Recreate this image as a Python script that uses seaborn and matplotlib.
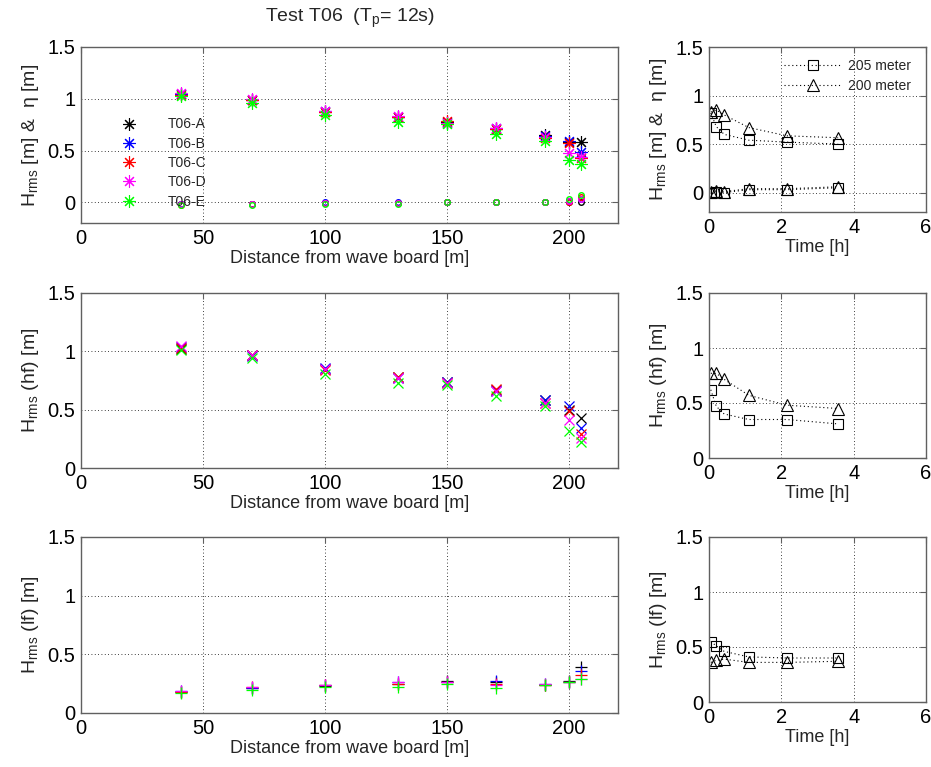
import numpy as np
import pandas as pd
import matplotlib
matplotlib.use("Agg")
import matplotlib.pyplot as plt
import seaborn as sns
from matplotlib.ticker import FuncFormatter

# ---------------- data ----------------
stations = [41, 70, 100, 130, 150, 170, 190, 200, 205]
series_names = ["T06-A", "T06-B", "T06-C", "T06-D", "T06-E"]
series_colors = ["#000000", "#0000ff", "#ff0000", "#ff00ff", "#00ff00"]

hrms_A = [1.05, 0.99, 0.87, 0.82, 0.78, 0.71, 0.65, 0.58, 0.58]
hrms_B = [1.05, 0.99, 0.88, 0.82, 0.77, 0.72, 0.64, 0.59, 0.49]
hrms_C = [1.04, 0.99, 0.87, 0.82, 0.79, 0.71, 0.62, 0.57, 0.43]
hrms_D = [1.06, 1.00, 0.88, 0.83, 0.77, 0.72, 0.63, 0.48, 0.44]
hrms_E = [1.03, 0.96, 0.84, 0.78, 0.76, 0.66, 0.59, 0.41, 0.37]

eta_A = [-0.02, -0.02, -0.01, -0.01, 0.0, 0.0, 0.0, 0.0, 0.0]
eta_B = [-0.02, -0.02, 0.0, 0.0, 0.0, 0.0, 0.0, 0.01, 0.03]
eta_C = [-0.03, -0.02, -0.01, -0.01, 0.0, 0.0, 0.0, 0.0, 0.05]
eta_D = [-0.02, -0.02, -0.01, -0.01, 0.0, 0.0, 0.0, 0.01, 0.03]
eta_E = [-0.03, -0.03, -0.02, -0.02, 0.0, 0.0, 0.0, 0.03, 0.07]

hf_A = [1.02, 0.97, 0.85, 0.78, 0.74, 0.67, 0.58, 0.50, 0.43]
hf_B = [1.04, 0.96, 0.86, 0.77, 0.74, 0.66, 0.58, 0.53, 0.34]
hf_C = [1.03, 0.97, 0.84, 0.78, 0.73, 0.68, 0.56, 0.49, 0.29]
hf_D = [1.05, 0.97, 0.85, 0.77, 0.73, 0.66, 0.56, 0.41, 0.26]
hf_E = [1.01, 0.94, 0.81, 0.73, 0.71, 0.62, 0.53, 0.32, 0.22]

lf_A = [0.18, 0.21, 0.23, 0.25, 0.27, 0.26, 0.24, 0.27, 0.39]
lf_B = [0.19, 0.21, 0.24, 0.26, 0.26, 0.27, 0.25, 0.265, 0.36]
lf_C = [0.18, 0.22, 0.24, 0.25, 0.265, 0.25, 0.24, 0.265, 0.32]
lf_D = [0.19, 0.22, 0.24, 0.26, 0.26, 0.24, 0.25, 0.26, 0.29]
lf_E = [0.17, 0.20, 0.22, 0.22, 0.245, 0.215, 0.24, 0.26, 0.29]

time_h = [0.05, 0.2, 0.42, 1.1, 2.15, 3.57]
loc_labels = ["205 meter", "200 meter"]
m205_hrms = [0.82, 0.68, 0.60, 0.54, 0.52, 0.50]
m200_hrms = [0.83, 0.85, 0.80, 0.67, 0.585, 0.565]
m205_eta = [0.0, 0.01, 0.0, 0.03, 0.03, 0.05]
m200_eta = [0.01, 0.02, 0.01, 0.04, 0.04, 0.06]
m205_hf = [0.62, 0.47, 0.40, 0.35, 0.35, 0.31]
m200_hf = [0.77, 0.77, 0.715, 0.57, 0.48, 0.45]
m205_lf = [0.55, 0.51, 0.46, 0.41, 0.40, 0.40]
m200_lf = [0.36, 0.38, 0.39, 0.36, 0.36, 0.37]

# ---------------- style ----------------
sns.set_theme(style="white")
plt.rcParams["font.family"] = ["Liberation Sans", "DejaVu Sans"]
plt.rcParams["mathtext.fontset"] = "custom"
plt.rcParams["mathtext.rm"] = "Liberation Sans"
plt.rcParams["mathtext.it"] = "Liberation Sans:italic"
plt.rcParams["mathtext.default"] = "rm"
FS = 13
TFS = 14.5
YFS = 14

fig = plt.figure(figsize=(9.31, 7.67), dpi=100)
W, H = 931.0, 767.0

def add_ax(x0, x1, y0, y1):
    return fig.add_axes([x0 / W, 1 - y1 / H, (x1 - x0) / W, (y1 - y0) / H])

axL = [add_ax(81, 618, 47, 223), add_ax(81, 618, 293, 468), add_ax(81, 618, 537, 713)]
axR = [add_ax(709, 926, 47, 212), add_ax(709, 926, 293, 458), add_ax(709, 926, 537, 702)]

fmt = FuncFormatter(lambda v, p: "%g" % v)
SPINE = "#606060"

def style(ax, xlim, xticks, ylim, yticks):
    ax.set_xlim(*xlim)
    ax.set_ylim(*ylim)
    ax.set_xticks(xticks)
    ax.set_yticks(yticks)
    ax.xaxis.set_major_formatter(fmt)
    ax.yaxis.set_major_formatter(fmt)
    ax.grid(True, color="black", linestyle=(0, (1, 3)), linewidth=0.6)
    for s in ax.spines.values():
        s.set_color(SPINE)
        s.set_linewidth(1.0)
        s.set_visible(True)
    ax.tick_params(direction="in", length=4, width=0.8, color=SPINE,
                   top=True, right=True, labelsize=TFS, labelcolor="black", pad=4)

hrms = [hrms_A, hrms_B, hrms_C, hrms_D, hrms_E]
eta = [eta_A, eta_B, eta_C, eta_D, eta_E]
hf = [hf_A, hf_B, hf_C, hf_D, hf_E]
lf = [lf_A, lf_B, lf_C, lf_D, lf_E]

# ---- left top: Hrms (*) and eta (o) ----
ax = axL[0]
for name, col, ys in zip(series_names, series_colors, hrms):
    sns.lineplot(x=stations, y=ys, ax=ax, linestyle="none", marker=(8, 2, 0),
                 markersize=9, markeredgewidth=0.8, markeredgecolor=col, color=col,
                 label=name, legend=False)
for col, ys in zip(series_colors, eta):
    sns.lineplot(x=stations, y=ys, ax=ax, linestyle="none", marker="o",
                 markersize=4, markeredgewidth=1.0, markeredgecolor=col,
                 markerfacecolor="none", color=col, legend=False)
style(ax, (0, 220), [0, 50, 100, 150, 200], (-0.2, 1.5), [0, 0.5, 1, 1.5])
ax.set_title("Test T06  (T$_{p}$= 12s)", fontsize=14, pad=18)
ax.set_xlabel("Distance from wave board [m]", fontsize=FS, labelpad=2)
ax.set_ylabel("H$_{rms}$ [m] &  η [m]", fontsize=YFS, labelpad=5)
h, l = ax.get_legend_handles_labels()
ax.legend(h[:5], l[:5], loc="upper left", bbox_to_anchor=(0.038, 0.60),
          frameon=False, fontsize=10, handlelength=4.0, handletextpad=0.8,
          labelspacing=0.38, borderpad=0, borderaxespad=0)

# ---- left middle: hf (x) ----
ax = axL[1]
for col, ys in zip(series_colors, hf):
    sns.lineplot(x=stations, y=ys, ax=ax, linestyle="none", marker="x",
                 markersize=7, markeredgewidth=0.9, markeredgecolor=col, color=col,
                 legend=False)
style(ax, (0, 220), [0, 50, 100, 150, 200], (0, 1.5), [0, 0.5, 1, 1.5])
ax.set_xlabel("Distance from wave board [m]", fontsize=FS, labelpad=2)
ax.set_ylabel("H$_{rms}$ (hf) [m]", fontsize=YFS, labelpad=5)

# ---- left bottom: lf (+) ----
ax = axL[2]
for col, ys in zip(series_colors, lf):
    sns.lineplot(x=stations, y=ys, ax=ax, linestyle="none", marker="+",
                 markersize=9, markeredgewidth=0.9, markeredgecolor=col, color=col,
                 legend=False)
style(ax, (0, 220), [0, 50, 100, 150, 200], (0, 1.5), [0, 0.5, 1, 1.5])
ax.set_xlabel("Distance from wave board [m]", fontsize=FS, labelpad=2)
ax.set_ylabel("H$_{rms}$ (lf) [m]", fontsize=YFS, labelpad=5)

# ---- right panels ----
right_sets = [
    [(m205_hrms, m205_eta), (m200_hrms, m200_eta)],
    [(m205_hf,), (m200_hf,)],
    [(m205_lf,), (m200_lf,)],
]
right_ylabels = ["H$_{rms}$ [m] &  η [m]", "H$_{rms}$ (hf) [m]", "H$_{rms}$ (lf) [m]"]
right_ylims = [(-0.2, 1.5), (0, 1.5), (0, 1.5)]
markers = ["s", "^"]
msizes = [7, 8]
for i, ax in enumerate(axR):
    for j, (lab, mk, ms) in enumerate(zip(loc_labels, markers, msizes)):
        for k, ys in enumerate(right_sets[i][j]):
            sns.lineplot(x=time_h, y=ys, ax=ax, linestyle=(0, (1, 2.5)), linewidth=0.8,
                         color="black", marker=mk, markersize=ms, markeredgewidth=0.8,
                         markeredgecolor="black", markerfacecolor="none",
                         label=lab if k == 0 else None, legend=False)
    style(ax, (0, 6), [0, 2, 4, 6], right_ylims[i], [0, 0.5, 1, 1.5])
    ax.set_xlabel("Time [h]", fontsize=FS, labelpad=2)
    ax.set_ylabel(right_ylabels[i], fontsize=YFS, labelpad=5)
    if i == 0:
        h, l = ax.get_legend_handles_labels()
        ax.legend(h, l, loc="upper left", bbox_to_anchor=(0.345, 0.93),
                  frameon=False, fontsize=10, handlelength=4.2, handletextpad=0.45,
                  labelspacing=0.45, borderpad=0, borderaxespad=0)

fig.savefig("out.png", dpi=100, facecolor="white")
